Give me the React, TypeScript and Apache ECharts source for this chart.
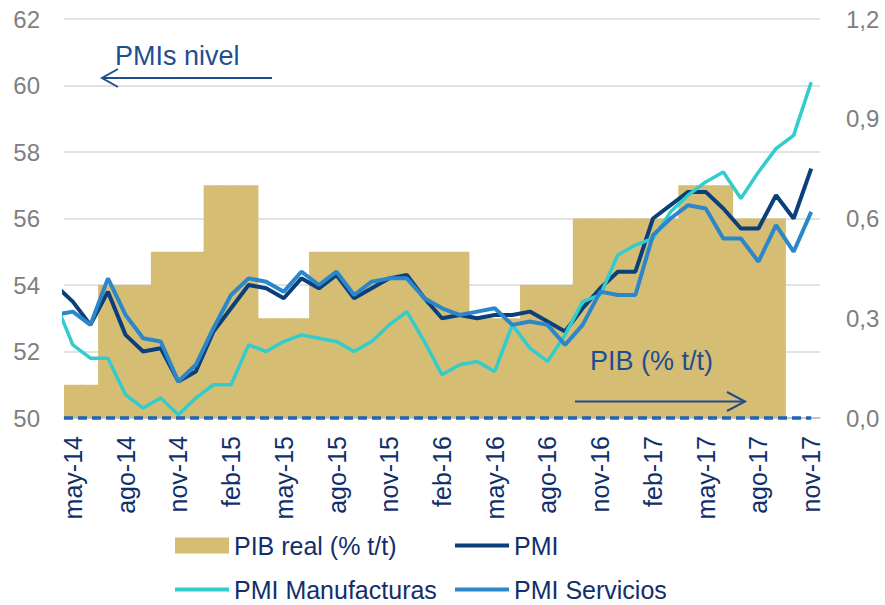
import React, { useEffect, useRef } from "react";
import * as echarts from "echarts";

// ---------- DATA ----------
const MESES = ["ene", "feb", "mar", "abr", "may", "jun", "jul", "ago", "sep", "oct", "nov", "dic"];
// monthly categories may-14 .. nov-17
const categorias: string[] = Array.from({ length: 43 }, (_, i) => {
  const m = 4 + i;
  return `${MESES[m % 12]}-${14 + Math.floor(m / 12)}`;
});

// PIB real (% t/t), quarterly: 2T14 .. 4T17
const trimestres = ["2T14", "3T14", "4T14", "1T15", "2T15", "3T15", "4T15", "1T16", "2T16", "3T16", "4T16", "1T17", "2T17", "3T17", "4T17"];
const pibTrimestral: (number | null)[] = [0.1, 0.4, 0.5, 0.7, 0.3, 0.5, 0.5, 0.5, 0.3, 0.4, 0.6, 0.6, 0.7, 0.6, null];

// PMI series, monthly abr-14 .. nov-17 (first value partly visible at left edge)
const pmiCompuesto = [54.0, 53.5, 52.8, 53.8, 52.5, 52.0, 52.1, 51.1, 51.4, 52.6, 53.3, 54.0, 53.9, 53.6, 54.2, 53.9, 54.3, 53.6, 53.9, 54.2, 54.3, 53.6, 53.0, 53.1, 53.0, 53.1, 53.1, 53.2, 52.9, 52.6, 53.3, 53.9, 54.4, 54.4, 56.0, 56.4, 56.8, 56.8, 56.3, 55.7, 55.7, 56.7, 56.0, 57.5];
const pmiManufacturas = [53.5, 52.2, 51.8, 51.8, 50.7, 50.3, 50.6, 50.1, 50.6, 51.0, 51.0, 52.2, 52.0, 52.3, 52.5, 52.4, 52.3, 52.0, 52.3, 52.8, 53.2, 52.3, 51.3, 51.6, 51.7, 51.4, 52.8, 52.1, 51.7, 52.5, 53.5, 53.7, 54.9, 55.2, 55.4, 56.2, 56.7, 57.1, 57.4, 56.6, 57.4, 58.1, 58.5, 60.1];
const pmiServicios = [53.1, 53.2, 52.8, 54.2, 53.1, 52.4, 52.3, 51.1, 51.6, 52.7, 53.7, 54.2, 54.1, 53.8, 54.4, 54.0, 54.4, 53.7, 54.1, 54.2, 54.2, 53.6, 53.3, 53.1, 53.2, 53.3, 52.8, 52.9, 52.8, 52.2, 52.8, 53.8, 53.7, 53.7, 55.5, 56.0, 56.4, 56.3, 55.4, 55.4, 54.7, 55.8, 55.0, 56.2];
const pibReferencia = 0; // 0,0 reference line on the right axis

// ---------- derived ----------
const pibMensual = categorias.map((_, i) => pibTrimestral[Math.floor((4 + i) / 3) - 1]);
const toXY = (arr: number[]) => arr.map((v, k) => [k - 1, v]);
const refLine = [[-0.5, pibReferencia], ...categorias.map((_, i) => [i, pibReferencia])];

const FONT = '"Liberation Sans", Arial, Helvetica, sans-serif';
const NAVY_TEXT = "#112F6B";
const ANNOT = "#1F4E8F";
const GREY = "#808080";

const C_PIB = "#D6BD74";
const C_PMI = "#0B3F7C";
const C_MAN = "#33CCCC";
const C_SER = "#2B87C9";

export default function App() {
  const ref = useRef<HTMLDivElement>(null);

  useEffect(() => {
    if (!ref.current) return;
    const chart = echarts.init(ref.current, undefined, { renderer: "svg" });

    const legendBase = {
      orient: "horizontal",
      itemWidth: 54,
      selectedMode: false,
      textStyle: { color: NAVY_TEXT, fontSize: 25, fontFamily: FONT },
      padding: 0,
    };

    const option: any = {
      animation: false,
      backgroundColor: "#ffffff",
      grid: { left: 64, right: 65, top: 19, bottom: 187 },
      xAxis: [
        {
          type: "category",
          data: categorias,
          boundaryGap: true,
          axisLine: { lineStyle: { color: "#BFBFBF", width: 1.5 } },
          axisTick: { interval: 2, length: 7, lineStyle: { color: "#A6A6A6", width: 1.5 } },
          axisLabel: { interval: 2, rotate: 90, margin: 18, color: NAVY_TEXT, fontSize: 25, fontFamily: FONT },
          splitLine: { show: false },
        },
        { type: "value", min: -0.5, max: 42.5, show: false },
      ],
      yAxis: [
        {
          type: "value",
          min: 50,
          max: 62,
          interval: 2,
          axisLine: { show: false },
          axisTick: { show: false },
          axisLabel: { color: GREY, fontSize: 24, margin: 24, fontFamily: FONT },
          splitLine: { lineStyle: { color: "#D9D9D9", width: 1.5 } },
        },
        {
          type: "value",
          position: "right",
          min: 0,
          max: 1.2,
          interval: 0.3,
          axisLine: { show: false },
          axisTick: { show: false },
          splitLine: { show: false },
          axisLabel: {
            color: GREY,
            fontSize: 24,
            margin: 26,
            fontFamily: FONT,
            formatter: (v: number) => v.toFixed(1).replace(".", ","),
          },
        },
      ],
      legend: [
        { ...legendBase, left: 175, top: 533, itemHeight: 16, icon: "rect", data: ["PIB real (% t/t)"] },
        { ...legendBase, left: 455, top: 533, itemHeight: 4, icon: "rect", data: ["PMI"] },
        { ...legendBase, left: 175, top: 577, itemHeight: 4, icon: "rect", data: ["PMI Manufacturas"] },
        { ...legendBase, left: 455, top: 577, itemHeight: 4, icon: "rect", data: ["PMI Servicios"] },
      ],
      series: [
        {
          name: "PIB real (% t/t)",
          type: "bar",
          xAxisIndex: 0,
          yAxisIndex: 1,
          data: pibMensual,
          barWidth: "112%",
          itemStyle: { color: C_PIB },
          silent: true,
        },
        {
          name: "ref",
          type: "line",
          xAxisIndex: 1,
          yAxisIndex: 1,
          data: refLine,
          symbol: "none",
          silent: true,
          clip: false,
          lineStyle: { color: "#1F64B4", width: 3.5, type: [9, 5] },
        },
        {
          name: "PMI",
          type: "line",
          xAxisIndex: 1,
          yAxisIndex: 0,
          data: toXY(pmiCompuesto),
          symbol: "none",
          itemStyle: { color: C_PMI },
          lineStyle: { color: C_PMI, width: 4 },
        },
        {
          name: "PMI Manufacturas",
          type: "line",
          xAxisIndex: 1,
          yAxisIndex: 0,
          data: toXY(pmiManufacturas),
          symbol: "none",
          itemStyle: { color: C_MAN },
          lineStyle: { color: C_MAN, width: 3.5 },
        },
        {
          name: "PMI Servicios",
          type: "line",
          xAxisIndex: 1,
          yAxisIndex: 0,
          data: toXY(pmiServicios),
          symbol: "none",
          itemStyle: { color: C_SER },
          lineStyle: { color: C_SER, width: 4 },
        },
      ],
      graphic: [
        {
          type: "text",
          z: 100,
          style: { text: "PMIs nivel", x: 115, y: 56, fill: ANNOT, fontSize: 27, fontFamily: FONT, verticalAlign: "middle", textVerticalAlign: "middle" },
        },
        { type: "line", z: 100, shape: { x1: 102, y1: 78, x2: 272, y2: 78 }, style: { stroke: ANNOT, lineWidth: 2 } },
        { type: "polyline", z: 100, shape: { points: [[118, 69], [102, 78], [118, 87]] }, style: { stroke: ANNOT, lineWidth: 2, fill: null } },
        {
          type: "text",
          z: 100,
          style: { text: "PIB (% t/t)", x: 590, y: 361, fill: ANNOT, fontSize: 27, fontFamily: FONT, verticalAlign: "middle", textVerticalAlign: "middle" },
        },
        { type: "line", z: 100, shape: { x1: 575, y1: 401.5, x2: 745, y2: 401.5 }, style: { stroke: ANNOT, lineWidth: 2 } },
        { type: "polyline", z: 100, shape: { points: [[727, 392], [745, 401.5], [727, 411]] }, style: { stroke: ANNOT, lineWidth: 2, fill: null } },
      ],
    };

    chart.setOption(option);
    return () => chart.dispose();
  }, []);

  return <div ref={ref} style={{ position: "fixed", left: 0, top: 0, width: 885, height: 605 }} />;
}
